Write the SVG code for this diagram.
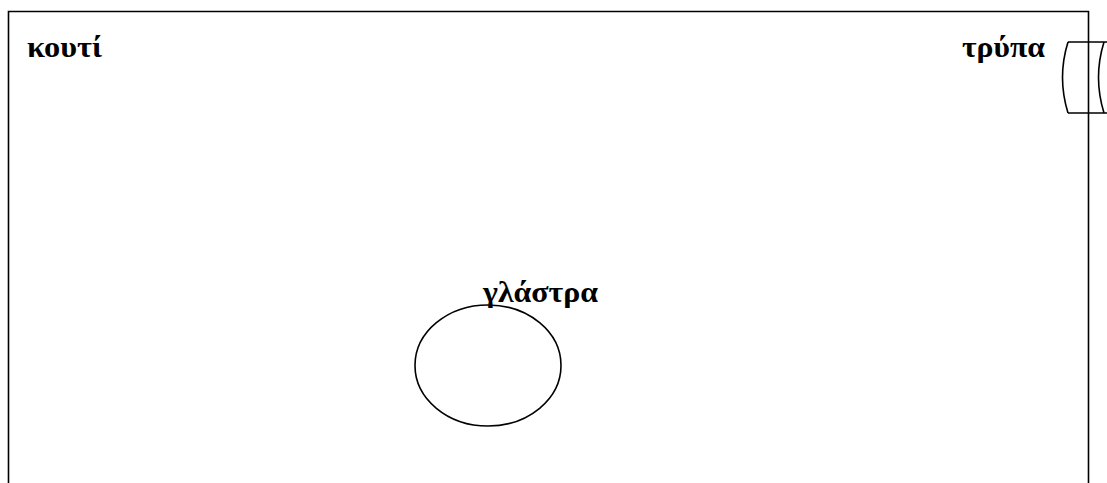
<svg xmlns="http://www.w3.org/2000/svg" width="1107" height="483" viewBox="0 0 1107 483">
<style>
.ln{fill:none;stroke:#000;stroke-width:1.6}
.lb{font-family:"Liberation Serif","DejaVu Serif",serif;font-weight:bold;font-size:30px;fill:#000}
</style>
<rect width="1107" height="483" fill="#fff"/>
<g id="box">
<path class="ln" d="M8.5,490 V11.5 H1088.5 V490"/>
<text class="lb" x="27" y="57" textLength="75" lengthAdjust="spacingAndGlyphs">κουτί</text>
</g>
<g id="hole">
<path class="ln" d="M1068,42 H1110 M1068,113 H1110 M1068,42 Q1057,77.5 1068,113 M1104,42 Q1093,77.5 1104,113"/>
<text class="lb" x="962" y="57" textLength="83" lengthAdjust="spacingAndGlyphs">τρύπα</text>
</g>
<g id="pot">
<ellipse class="ln" cx="488" cy="365.5" rx="73" ry="60.5"/>
<text class="lb" x="483" y="302" textLength="115" lengthAdjust="spacingAndGlyphs">γλάστρα</text>
</g>
<g id="connectors"/>
</svg>
